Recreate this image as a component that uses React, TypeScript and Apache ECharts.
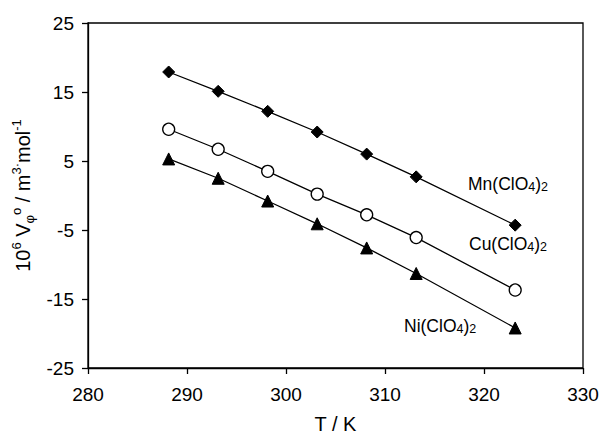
import React, { useEffect, useRef } from 'react';
import * as echarts from 'echarts';

const temperatures = [288.15, 293.15, 298.15, 303.15, 308.15, 313.15, 323.15];
const mnValues = [17.9, 15.1, 12.2, 9.2, 6.0, 2.7, -4.3];
const cuValues = [9.6, 6.7, 3.5, 0.2, -2.8, -6.1, -13.7];
const niValues = [5.3, 2.5, -0.8, -4.1, -7.6, -11.3, -19.2];
const seriesNames = ['Mn(ClO{sub|4}){sub|2}', 'Cu(ClO{sub|4}){sub|2}', 'Ni(ClO{sub|4}){sub|2}'];
const xAxisRange = [280, 330, 10];
const yAxisRange = [-25, 25, 10];

const FONT = 'Liberation Sans, Arial, sans-serif';

const pair = (xs: number[], ys: number[]) => xs.map((x, i) => [x, ys[i]]);

export default function App() {
  const ref = useRef<HTMLDivElement>(null);
  useEffect(() => {
    if (!ref.current) return;
    const chart = echarts.init(ref.current, null, { renderer: 'svg' });
    const lineStyle = { color: '#000', width: 1.3 };
    const labelRich = {
      sub: { fontSize: 12.5, lineHeight: 12, verticalAlign: 'bottom', fontFamily: FONT, fill: '#000' },
    };
    const labelStyle = (text: string) => ({
      text, fontSize: 17.5, fontFamily: FONT, fill: '#000', verticalAlign: 'middle', rich: labelRich,
    });
    chart.setOption({
      animation: false,
      textStyle: { fontFamily: FONT, color: '#000' },
      grid: {
        left: 88, right: 17, top: 23, bottom: 66,
        outerBoundsMode: 'none',
        containLabel: false,
        show: true, borderColor: '#000', borderWidth: 1.3, backgroundColor: 'transparent',
      },
      xAxis: {
        type: 'value',
        min: xAxisRange[0], max: xAxisRange[1], interval: xAxisRange[2],
        splitLine: { show: false },
        axisLine: { onZero: false, lineStyle: { color: '#000', width: 1.3 } },
        axisTick: { show: true, inside: false, length: 6, lineStyle: { color: '#000', width: 1.3 } },
        axisLabel: { fontSize: 19, color: '#000', margin: 17, fontFamily: FONT },
        name: 'T / K',
        nameLocation: 'middle',
        nameGap: 47,
        nameTextStyle: { fontSize: 20, lineHeight: 18, color: '#000', fontFamily: FONT },
      },
      yAxis: {
        type: 'value',
        min: yAxisRange[0], max: yAxisRange[1], interval: yAxisRange[2],
        splitLine: { show: false },
        axisLine: { show: true, onZero: false, lineStyle: { color: '#000', width: 1.3 } },
        axisTick: { show: true, inside: false, length: 6, lineStyle: { color: '#000', width: 1.3 } },
        axisLabel: { fontSize: 19, color: '#000', margin: 14, fontFamily: FONT },
        name: '10{sup|6} V{sub|φ}{sup|o} / m{sup|3}{sup|·}mol{sup|-1}',
        nameLocation: 'middle',
        nameGap: 39,
        nameTextStyle: {
          fontSize: 20, color: '#000', fontFamily: FONT, lineHeight: 26,
          rich: {
            sup: { fontSize: 13, lineHeight: 13, verticalAlign: 'top', fontFamily: FONT, color: '#000' },
            sub: { fontSize: 13, lineHeight: 13, verticalAlign: 'bottom', fontFamily: FONT, color: '#000' },
          },
        },
      },
      series: [
        {
          type: 'line', data: pair(temperatures, mnValues),
          symbol: 'diamond', symbolSize: 12,
          itemStyle: { color: '#000', borderColor: '#000' },
          lineStyle,
        },
        {
          type: 'line', data: pair(temperatures, cuValues),
          symbol: 'circle', symbolSize: 12,
          itemStyle: { color: '#fff', borderColor: '#000', borderWidth: 1.3 },
          lineStyle,
        },
        {
          type: 'line', data: pair(temperatures, niValues),
          symbol: 'triangle', symbolSize: 12,
          itemStyle: { color: '#000', borderColor: '#000' },
          lineStyle,
        },
      ],
      graphic: [
        { type: 'text', x: 468, y: 184, style: labelStyle(seriesNames[0]) },
        { type: 'text', x: 469, y: 244, style: labelStyle(seriesNames[1]) },
        { type: 'text', x: 404, y: 326, style: labelStyle(seriesNames[2]) },
      ],
    });
    return () => chart.dispose();
  }, []);
  return <div ref={ref} style={{ width: 600, height: 434, position: 'absolute', left: 0, top: 0 }} />;
}
